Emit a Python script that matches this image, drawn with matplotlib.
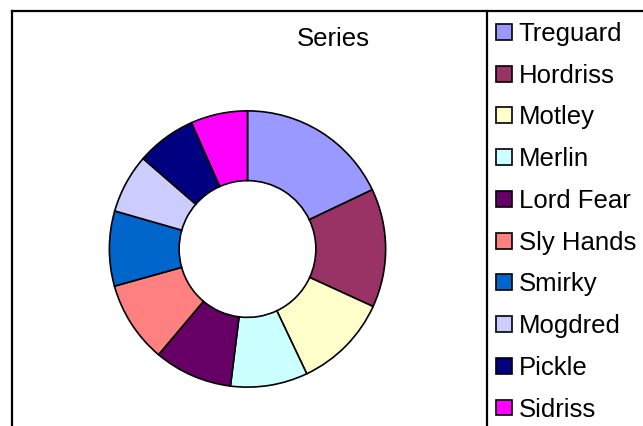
import matplotlib
matplotlib.use('Agg')
import matplotlib.pyplot as plt
from matplotlib.lines import Line2D

plt.rcParams['font.family'] = 'Liberation Sans'
plt.rcParams['font.size'] = 18.5

names = ['Treguard', 'Hordriss', 'Motley', 'Merlin', 'Lord Fear',
         'Sly Hands', 'Smirky', 'Mogdred', 'Pickle', 'Sidriss']
values = [64.6, 50.0, 40.0, 32.5, 33.0, 34.3, 31.6, 24.9, 25.2, 23.9]
colors = ['#9999FF', '#993366', '#FFFFCC', '#CCFFFF', '#660066',
          '#FF8080', '#0066CC', '#CCCCFF', '#000080', '#FF00FF']

W, H = 643, 426
fig = plt.figure(figsize=(W / 100, H / 100), dpi=100)

# chart border and legend divider
fig.add_artist(Line2D([12 / W, 12 / W], [0, 1 - 11 / H], color='black', lw=1.6))
fig.add_artist(Line2D([12 / W, 1], [1 - 11 / H, 1 - 11 / H], color='black', lw=1.6))
fig.add_artist(Line2D([487 / W, 487 / W], [0, 1 - 11 / H], color='black', lw=1.6))

cx, cy, r = 247.5, 249, 139.5
ax = fig.add_axes([(cx - r) / W, (H - cy - r) / H, 2 * r / W, 2 * r / H])
wedges, _ = ax.pie(values, colors=colors, startangle=90, counterclock=False,
                   radius=1, wedgeprops=dict(width=0.505, edgecolor='black', linewidth=1.2))
ax.set_xlim(-1.01, 1.01)
ax.set_ylim(-1.01, 1.01)
ax.set_aspect('equal')
ax.axis('off')

fig.text(333 / W, 1 - 38.5 / H, 'Series', ha='center', va='center', fontsize=18.5)

leg = fig.legend(wedges, names, loc='upper left', bbox_to_anchor=(496 / W, 1 - 22 / H),
                 frameon=False, handlelength=0.62, handleheight=0.58,
                 handletextpad=0.27, labelspacing=0.69, borderpad=0, borderaxespad=0)
for h in leg.legend_handles:
    h.set_linewidth(1.2)

fig.savefig('out.png', dpi=100)
